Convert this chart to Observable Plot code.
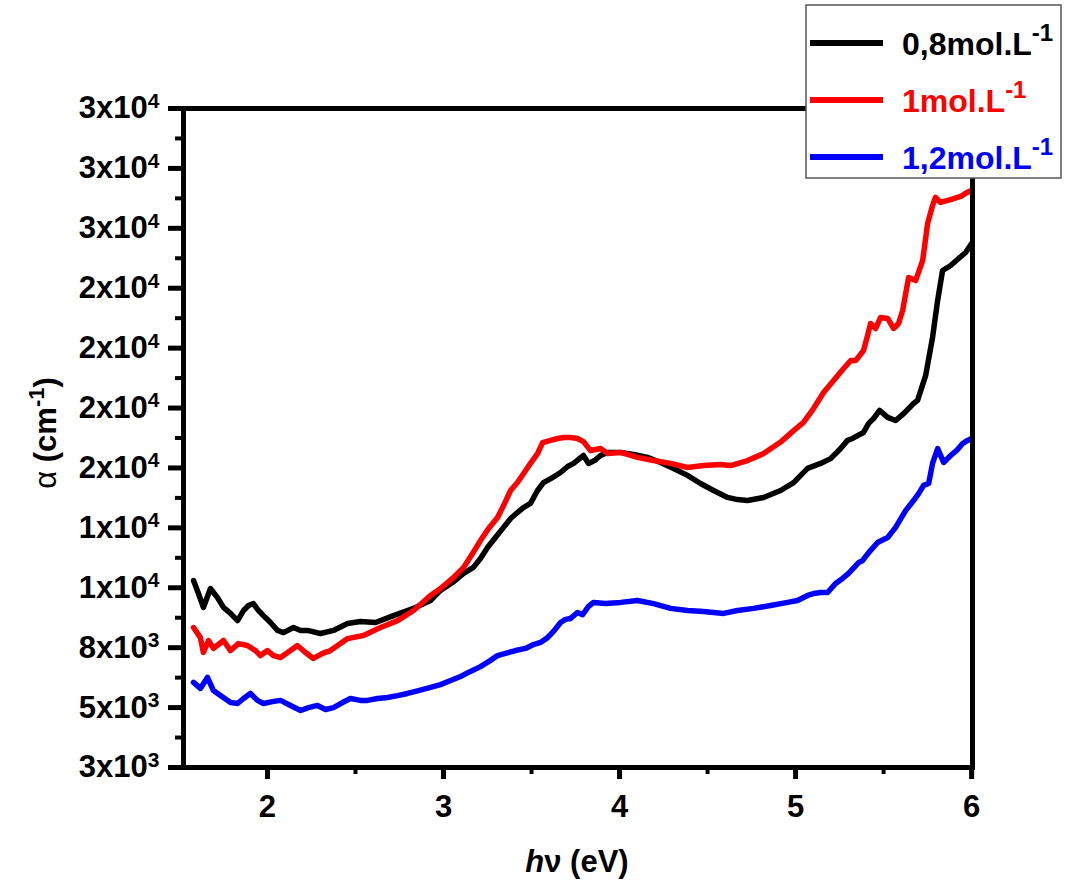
<!DOCTYPE html>
<html><head><meta charset="utf-8">
<script src="https://cdn.jsdelivr.net/npm/d3@7"></script>
<script src="https://cdn.jsdelivr.net/npm/@observablehq/plot@0.6"></script>
<style>
body{margin:0;background:#fff;}
#wrap{position:relative;width:1065px;height:883px;font-family:"Liberation Sans",Arial,sans-serif;}
#legend{position:absolute;left:0;top:0;}
</style></head><body><div id="wrap"></div>
<script>
// ---- data (photon energy hν in eV, absorption coefficient α in cm^-1) ----
const seriesLabels = ["0,8mol.L", "1mol.L", "1,2mol.L"];
const seriesColors = ["#000000", "#ff0000", "#0000ff"];

const black08 = [
[1.580,10300],[1.608,9760],[1.636,9180],[1.676,9970],[1.716,9590],[1.750,9180],[1.790,8930],[1.830,8630],
[1.864,9050],[1.892,9260],[1.920,9340],[1.949,9050],[1.977,8840],[2.017,8550],[2.057,8220],[2.091,8130],
[2.148,8340],[2.188,8220],[2.227,8220],[2.301,8090],[2.375,8220],[2.455,8510],[2.528,8590],[2.614,8550],
[2.716,8840],[2.830,9140],[2.926,9470],[2.983,9890],[3.051,10220],[3.114,10600],[3.170,10850],[3.210,11220],
[3.250,11680],[3.295,12100],[3.341,12520],[3.381,12890],[3.420,13140],[3.455,13350],[3.494,13520],[3.534,14060],
[3.568,14390],[3.619,14600],[3.665,14810],[3.705,15060],[3.739,15190],[3.795,15520],[3.824,15190],[3.858,15310],
[3.892,15520],[3.932,15650],[4.006,15650],[4.080,15560],[4.159,15440],[4.233,15230],[4.307,14980],[4.386,14690],
[4.460,14350],[4.534,14060],[4.614,13770],[4.670,13680],[4.727,13640],[4.818,13770],[4.915,14060],[4.989,14390],
[5.068,14980],[5.142,15190],[5.199,15390],[5.256,15810],[5.295,16150],[5.324,16230],[5.352,16350],[5.386,16480],
[5.415,16860],[5.443,17060],[5.477,17400],[5.523,17110],[5.568,16980],[5.614,17270],[5.670,17690],[5.693,17820],
[5.739,18860],[5.778,20440],[5.807,21990],[5.835,23240],[5.881,23450],[5.926,23740],[5.966,23990],[6.000,24370]
];

const red10 = [
[1.580,8340],[1.619,7920],[1.636,7300],[1.665,7800],[1.693,7470],[1.750,7800],[1.790,7380],[1.835,7670],
[1.886,7590],[1.932,7380],[1.960,7170],[2.000,7380],[2.034,7170],[2.074,7090],[2.131,7380],[2.170,7590],
[2.216,7300],[2.261,7050],[2.313,7260],[2.358,7380],[2.415,7670],[2.455,7880],[2.545,8010],[2.642,8340],
[2.739,8630],[2.830,9050],[2.926,9680],[2.983,9970],[3.051,10390],[3.114,10850],[3.165,11430],[3.210,11970],
[3.256,12470],[3.307,12930],[3.341,13430],[3.381,14060],[3.420,14390],[3.455,14770],[3.494,15190],[3.534,15600],
[3.563,16060],[3.608,16150],[3.648,16230],[3.682,16270],[3.722,16270],[3.761,16230],[3.795,16100],[3.835,15730],
[3.892,15810],[3.932,15600],[4.006,15650],[4.102,15440],[4.193,15310],[4.290,15190],[4.386,15020],[4.477,15100],
[4.574,15140],[4.631,15100],[4.727,15310],[4.818,15600],[4.915,16080],[4.989,16560],[5.045,16900],[5.102,17480],
[5.159,18150],[5.216,18650],[5.273,19150],[5.313,19480],[5.341,19480],[5.386,19900],[5.409,20530],[5.426,21030],
[5.455,20820],[5.483,21280],[5.523,21240],[5.557,20820],[5.585,21030],[5.608,21570],[5.642,22950],[5.682,22820],
[5.722,23660],[5.750,25200],[5.778,25950],[5.795,26290],[5.824,26080],[5.881,26200],[5.938,26330],[5.972,26490],
[6.000,26580]
];

const blue12 = [
[1.580,6050],[1.619,5800],[1.659,6260],[1.693,5710],[1.733,5500],[1.790,5210],[1.830,5170],[1.864,5380],
[1.903,5590],[1.943,5300],[1.977,5170],[2.028,5250],[2.074,5300],[2.131,5090],[2.188,4880],[2.233,5000],
[2.284,5090],[2.330,4920],[2.375,5000],[2.426,5210],[2.472,5380],[2.528,5300],[2.568,5300],[2.625,5380],
[2.682,5420],[2.739,5500],[2.795,5590],[2.858,5710],[2.926,5840],[2.983,5960],[3.040,6130],[3.097,6300],
[3.153,6510],[3.210,6710],[3.267,6970],[3.307,7170],[3.352,7260],[3.409,7380],[3.466,7470],[3.511,7630],
[3.551,7720],[3.591,7920],[3.625,8180],[3.665,8550],[3.693,8680],[3.722,8720],[3.761,8970],[3.790,8880],
[3.824,9220],[3.852,9390],[3.920,9340],[4.006,9390],[4.102,9470],[4.193,9340],[4.290,9140],[4.386,9050],
[4.477,9010],[4.591,8930],[4.670,9050],[4.761,9140],[4.858,9260],[4.955,9390],[5.011,9470],[5.068,9680],
[5.102,9760],[5.142,9800],[5.182,9800],[5.227,10180],[5.267,10390],[5.301,10600],[5.358,11050],[5.381,11140],
[5.415,11470],[5.466,11890],[5.523,12100],[5.568,12520],[5.625,13220],[5.670,13640],[5.699,13930],[5.727,14270],
[5.756,14350],[5.778,15190],[5.807,15810],[5.841,15230],[5.881,15520],[5.915,15730],[5.949,16020],[5.977,16150],
[6.000,16230]
];

const xMajorTicks = [2, 3, 4, 5, 6];
const xMinorTicks = [2.5, 3.5, 4.5, 5.5];
const yMajorTicks = [2500, 5000, 7500, 10000, 12500, 15000, 17500, 20000, 22500, 25000, 27500, 30000];
const yMinorTicks = [3750, 6250, 8750, 11250, 13750, 16250, 18750, 21250, 23750, 26250, 28750];
const yTickLabels = ["3x10^3","5x10^3","8x10^3","1x10^4","1x10^4","2x10^4","2x10^4","2x10^4","2x10^4","3x10^4","3x10^4","3x10^4"];

const FONT = "'Liberation Sans', Arial, Helvetica, sans-serif";
const lineOpts = (c) => ({x: d => d[0], y: d => d[1], stroke: c, strokeWidth: 5.5, strokeLinejoin: "round", strokeLinecap: "round"});

const chart = Plot.plot({
  width: 1065, height: 883,
  marginLeft: 183, marginRight: 93, marginTop: 108, marginBottom: 116,
  style: {fontFamily: FONT, fontSize: "31px", fontWeight: "bold", background: "white", color: "black", overflow: "visible"},
  x: {domain: [1.523, 6.005]},
  y: {domain: [2500, 30000]},
  marks: [
    Plot.line(black08, lineOpts(seriesColors[0])),
    Plot.line(red10, lineOpts(seriesColors[1])),
    Plot.line(blue12, lineOpts(seriesColors[2])),
    Plot.frame({strokeWidth: 5, stroke: "black"}),
    Plot.axisX(xMajorTicks, {tickSize: 12, tickPadding: 15, strokeWidth: 5, label: null, fontSize: 31, tickFormat: d => String(d)}),
    Plot.axisX(xMinorTicks, {tickSize: 7, strokeWidth: 4, label: null, tickFormat: () => ""}),
    Plot.axisY(yMajorTicks, {tickSize: 15, tickPadding: 9, strokeWidth: 5, label: null, fontSize: 31,
      tickFormat: d => yTickLabels[yMajorTicks.indexOf(d)]}),
    Plot.axisY(yMinorTicks, {tickSize: 8, strokeWidth: 4, label: null, tickFormat: () => ""})
  ]
});

document.getElementById("wrap").appendChild(chart);
const svg = d3.select(chart);

// superscripts in y tick labels
svg.selectAll("text").each(function() {
  const t = this.textContent;
  if (t && t.includes("^")) {
    const [base, exp] = t.split("^");
    const el = d3.select(this);
    el.text(null);
    el.append("tspan").text(base);
    el.append("tspan").attr("dy", "-0.5em").attr("font-size", "21px").text(exp);
  }
});

// axis titles
const xt = svg.append("text").attr("x", 577).attr("y", 872).attr("text-anchor", "middle")
  .attr("font-family", FONT).attr("font-size", 31).attr("font-weight", "bold").attr("fill", "black");
xt.append("tspan").attr("font-style", "italic").text("h");
xt.append("tspan").text("ν (eV)");

const yt = svg.append("text").attr("transform", "translate(56,433) rotate(-90)").attr("text-anchor", "middle")
  .attr("font-family", FONT).attr("font-size", 31).attr("font-weight", "bold").attr("fill", "black");
yt.append("tspan").attr("font-weight", "normal").text("α");
yt.append("tspan").text(" (cm");
yt.append("tspan").attr("dy", "-0.55em").attr("font-size", "22px").text("-1");
yt.append("tspan").attr("dy", "0.39em").text(")");

// legend
const lg = d3.select("#wrap").append("svg").attr("id", "legend").attr("width", 1065).attr("height", 200)
  .style("position", "absolute").style("left", "0px").style("top", "0px");
lg.append("rect").attr("x", 806).attr("y", 5).attr("width", 255).attr("height", 173)
  .attr("fill", "white").attr("stroke", "#555").attr("stroke-width", 1.5);
const rowY = [43, 100, 157];
seriesLabels.forEach((lab, i) => {
  lg.append("line").attr("x1", 810).attr("x2", 883).attr("y1", rowY[i]).attr("y2", rowY[i])
    .attr("stroke", seriesColors[i]).attr("stroke-width", 6);
  const t = lg.append("text").attr("x", 902).attr("y", rowY[i] + 12)
    .attr("font-family", FONT).attr("font-size", 32).attr("font-weight", "bold").attr("fill", seriesColors[i]);
  t.append("tspan").text(lab);
  t.append("tspan").attr("dy", "-0.6em").attr("font-size", "24px").text("-1");
});
</script></body></html>
